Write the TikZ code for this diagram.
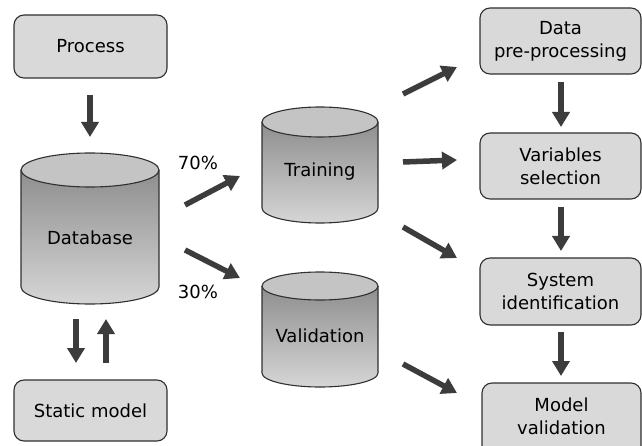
\documentclass[tikz,border=0pt]{standalone}
\usepackage{fontspec}
\setmainfont{DejaVu Sans}
\usetikzlibrary{arrows.meta}
\definecolor{boxfill}{HTML}{D9D9D9}
\definecolor{edge}{HTML}{303030}
\definecolor{arrowgray}{HTML}{3C3C3C}
\definecolor{cyltop}{HTML}{C4C4C4}
\definecolor{cylhi}{HTML}{8E8E8E}
\definecolor{cyllo}{HTML}{D6D6D6}
\tikzset{
  box/.style={draw=edge, line width=1.1pt, fill=boxfill, rounded corners=10pt},
  lbl/.style={font=\fontsize{18}{23}\selectfont, align=center, inner sep=0pt},
  arr/.style={-{Triangle[width=17pt,length=15pt]}, line width=5.5pt, draw=arrowgray},
}
\newcommand{\mycyl}[5]{% cx, ytop, ybot, rx, ry
  \shade[top color=cylhi, bottom color=cyllo]
    (#1-#4,#2) -- (#1-#4,#3) arc[start angle=180,end angle=0,x radius=#4,y radius=#5] -- (#1+#4,#2) -- cycle;
  \draw[edge, line width=1.1pt]
    (#1-#4,#2) -- (#1-#4,#3) arc[start angle=180,end angle=0,x radius=#4,y radius=#5] -- (#1+#4,#2);
  \filldraw[draw=edge, line width=1.1pt, fill=cyltop] (#1,#2) ellipse [x radius=#4, y radius=#5];
}
\begin{document}
\begin{tikzpicture}[x=1pt,y=-1pt]
\useasboundingbox (0,0) rectangle (642,446);
\fill[white] (0,0) rectangle (642,446);
\clip (0,0) rectangle (642,446);

% left column
\draw[box] (14,15) rectangle (167,78);
\node[lbl] (process) at (90.5,46.5) {Process};
\mycyl{90}{170}{287}{69}{17}
\node[lbl] (database) at (90,238) {Database};
\draw[box] (14,380) rectangle (167,441);
\node[lbl] (static) at (90.5,410.5) {Static model};

% middle cylinders
\mycyl{320}{122}{208}{58}{15}
\node[lbl] (training) at (320,172) {Training};
\mycyl{320}{286}{373}{58}{14}
\node[lbl] (validation) at (320,336) {Validation};

\node[lbl] (p70) at (198,163) {70\%};
\node[lbl] (p30) at (198,292) {30\%};

% right column
\draw[box] (480,8) rectangle (641,74);
\node[lbl] (dpp) at (560.5,41) {Data\\pre-processing};
\draw[box] (480,133) rectangle (641,199);
\node[lbl] (vs) at (560.5,166) {Variables\\selection};
\draw[box] (480,258) rectangle (641,325);
\node[lbl] (si) at (560.5,291.5) {System\\identification};
\draw[box] (482,383) rectangle (641,462);
\node[lbl] (mv) at (561.5,416) {Model\\validation};

% arrow coordinates
\coordinate (a1s) at (90,95);   \coordinate (a1e) at (90,137);
\coordinate (a2s) at (76,319);  \coordinate (a2e) at (76,363);
\coordinate (a3s) at (106,363); \coordinate (a3e) at (106,319);
\coordinate (a4s) at (185,205); \coordinate (a4e) at (240,176);
\coordinate (a5s) at (185,250); \coordinate (a5e) at (240,278);
\coordinate (b1s) at (403,94);  \coordinate (b1e) at (457,67);
\coordinate (b2s) at (403,162); \coordinate (b2e) at (457,160);
\coordinate (b3s) at (403,227); \coordinate (b3e) at (457,258);
\coordinate (b4s) at (403,364); \coordinate (b4e) at (457,393);
\coordinate (c1s) at (561,82);  \coordinate (c1e) at (561,127);
\coordinate (c2s) at (561,207); \coordinate (c2e) at (561,251);
\coordinate (c3s) at (561,332); \coordinate (c3e) at (561,376);

\foreach \a in {a1,a2,a3,a4,a5,b1,b2,b3,b4,c1,c2,c3}
  \draw[arr] (\a s) -- (\a e);
\end{tikzpicture}
\end{document}
